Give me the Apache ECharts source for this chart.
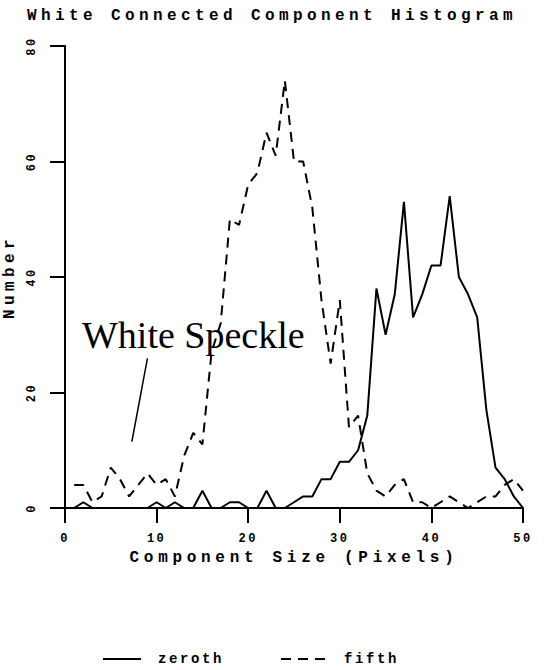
<!DOCTYPE html>
<html>
<head>
<meta charset="utf-8">
<script src="https://cdn.jsdelivr.net/npm/echarts@6/dist/echarts.min.js"></script>
</head>
<body style="margin:0;background:#fff">
<div id="chart" style="width:549px;height:670px"></div>
<script>
// component size (pixels) for each bin
var sizes = [1, 2, 3, 4, 5, 6, 7, 8, 9, 10, 11, 12, 13, 14, 15, 16, 17, 18, 19, 20,
             21, 22, 23, 24, 25, 26, 27, 28, 29, 30, 31, 32, 33, 34, 35, 36, 37, 38, 39, 40,
             41, 42, 43, 44, 45, 46, 47, 48, 49, 50];
var zeroth = [0, 1, 0, 0, 0, 0, 0, 0, 0, 1, 0, 1, 0, 0, 3, 0, 0, 1, 1, 0,
              0, 3, 0, 0, 1, 2, 2, 5, 5, 8, 8, 10, 16, 38, 30, 37, 53, 33, 37, 42,
              42, 54, 40, 37, 33, 17, 7, 5, 2, 0];
var fifth = [4, 4, 1, 2, 7, 5, 2, 4, 6, 4, 5, 2, 9, 13, 11, 27, 32, 50, 49, 56,
             58, 65, 61, 74, 60, 60, 52, 36, 25, 36, 14, 16, 6, 3, 2, 4, 5, 1, 1, 0,
             1, 2, 1, 0, 1, 2, 2, 4, 5, 3];
var seriesNames = ['zeroth', 'fifth'];
var xRange = [0, 50, 10];
var yRange = [0, 80, 20];
// pointer under the "White Speckle" note, in data units
var speckleArrow = [[9.0, 25.9], [7.3, 11.5]];

function pairs(xs, ys) {
    var out = [];
    for (var i = 0; i < xs.length; i++) out.push([xs[i], ys[i]]);
    return out;
}

var mono = 'Liberation Mono';
var ink = '#000';

var chart = echarts.init(document.getElementById('chart'), null, {renderer: 'svg'});

var legendText = {color: ink, fontFamily: mono, fontWeight: 'bold', fontSize: 14, padding: [0, 0, 0, 12]};
var legendBase = {top: 647, itemHeight: 14, textStyle: legendText, itemStyle: {opacity: 0}};

chart.setOption({
    animation: false,
    backgroundColor: '#fff',
    title: {
        text: 'White Connected Component Histogram',
        left: 27, top: 8, padding: 0,
        textStyle: {color: ink, fontFamily: mono, fontWeight: 'bold', fontSize: 16}
    },
    legend: [
        Object.assign({data: [seriesNames[0]], left: 97, itemWidth: 38}, legendBase),
        Object.assign({data: [seriesNames[1]], left: 275, itemWidth: 46}, legendBase)
    ],
    grid: {left: 65, right: 26, top: 46, bottom: 162, containLabel: false, outerBoundsMode: 'none'},
    xAxis: {
        type: 'value', min: xRange[0], max: xRange[1], interval: xRange[2],
        name: 'Component Size (Pixels)', nameLocation: 'middle', nameGap: 39,
        nameTextStyle: {color: ink, fontFamily: mono, fontWeight: 'bold', fontSize: 16},
        axisLine: {lineStyle: {color: ink, width: 2}},
        axisTick: {length: 15, lineStyle: {color: ink, width: 2}},
        axisLabel: {margin: 25, color: ink, fontFamily: mono, fontWeight: 'bold', fontSize: 12},
        splitLine: {show: false}
    },
    yAxis: {
        type: 'value', min: yRange[0], max: yRange[1], interval: yRange[2],
        name: 'Number', nameLocation: 'middle', nameGap: 29,
        nameTextStyle: {color: ink, fontFamily: mono, fontWeight: 'bold', fontSize: 16},
        axisLine: {show: true, lineStyle: {color: ink, width: 2}},
        axisTick: {show: true, length: 15, lineStyle: {color: ink, width: 2}},
        axisLabel: {rotate: 90, margin: 27, color: ink, fontFamily: mono, fontWeight: 'bold', fontSize: 12},
        splitLine: {show: false}
    },
    graphic: [{
        type: 'text',
        style: {
            x: 82, y: 335, text: 'White Speckle',
            fontFamily: 'Liberation Serif', fontSize: 38, fill: ink,
            verticalAlign: 'middle', textVerticalAlign: 'middle'
        }
    }],
    series: [
        {
            name: seriesNames[0], type: 'line', data: pairs(sizes, zeroth),
            symbol: 'none', lineStyle: {color: ink, width: 2}, itemStyle: {color: ink},
            markLine: {
                silent: true, symbol: ['none', 'none'], label: {show: false},
                lineStyle: {color: ink, width: 1.5, type: 'solid'},
                data: [[{coord: speckleArrow[0]}, {coord: speckleArrow[1]}]]
            }
        },
        {
            name: seriesNames[1], type: 'line', data: pairs(sizes, fifth),
            symbol: 'none', itemStyle: {color: ink},
            lineStyle: {color: ink, width: 2, type: [10, 7]}
        }
    ]
});

// the old plotter font is very wide, so spread the letters out
var spacing = {
    'White Connected Component Histogram': 4.4,
    'Component Size (Pixels)': 4.7,
    'Number': 4.4,
    'zeroth': 2.6,
    'fifth': 2.6
};
function spreadText() {
    var texts = document.querySelectorAll('#chart text');
    texts.forEach(function (t) {
        var s = t.textContent;
        if (spacing[s] !== undefined) t.setAttribute('letter-spacing', spacing[s] + 'px');
        else if (/^\d+$/.test(s)) t.setAttribute('letter-spacing', '2.5px');
    });
}
spreadText();
chart.on('finished', spreadText);
setTimeout(spreadText, 0);
</script>
</body>
</html>
